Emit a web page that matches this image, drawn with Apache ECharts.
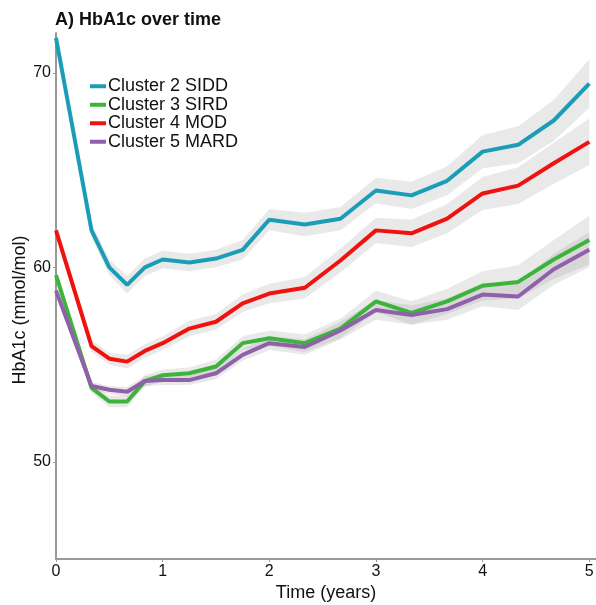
<!DOCTYPE html>
<html>
<head>
<meta charset="utf-8">
<script src="https://cdn.jsdelivr.net/npm/echarts@6/dist/echarts.min.js"></script>
<style>
html,body{margin:0;padding:0;background:#fff;}
#chart{width:596px;height:605px;}
</style>
</head>
<body>
<div id="chart"></div>
<script>
// Time points (years)
var times = [0, 0.333, 0.5, 0.667, 0.833, 1, 1.25, 1.5, 1.75, 2, 2.333, 2.667, 3, 3.333, 3.667, 4, 4.333, 4.667, 5];

var seriesNames = ['Cluster 2 SIDD', 'Cluster 3 SIRD', 'Cluster 4 MOD', 'Cluster 5 MARD'];

// Mean HbA1c (mmol/mol)
var cluster2 = [71.8, 61.9, 60.0, 59.1, 60.0, 60.4, 60.25, 60.45, 60.9, 62.45, 62.2, 62.5, 63.95, 63.7, 64.45, 65.95, 66.3, 67.55, 69.45];
var cluster3 = [59.6, 53.8, 53.1, 53.1, 54.15, 54.45, 54.55, 54.9, 56.1, 56.35, 56.1, 56.85, 58.25, 57.65, 58.25, 59.05, 59.25, 60.4, 61.4];
var cluster4 = [61.9, 55.95, 55.3, 55.15, 55.7, 56.1, 56.85, 57.2, 58.15, 58.65, 58.95, 60.35, 61.9, 61.75, 62.5, 63.8, 64.2, 65.35, 66.45];
var cluster5 = [58.8, 53.9, 53.7, 53.6, 54.15, 54.2, 54.2, 54.55, 55.5, 56.1, 55.9, 56.75, 57.8, 57.55, 57.85, 58.6, 58.5, 59.9, 60.9];

// Confidence band half-widths (mmol/mol)
var ci2 = [0.3, 0.35, 0.4, 0.45, 0.45, 0.45, 0.45, 0.45, 0.5, 0.55, 0.6, 0.6, 0.65, 0.7, 0.75, 0.85, 0.95, 1.05, 1.25];
var ci3 = [0.2, 0.25, 0.3, 0.3, 0.3, 0.3, 0.3, 0.35, 0.35, 0.4, 0.45, 0.5, 0.55, 0.6, 0.65, 0.75, 0.85, 1.0, 1.25];
var ci4 = [0.25, 0.3, 0.3, 0.35, 0.35, 0.35, 0.4, 0.4, 0.45, 0.5, 0.55, 0.6, 0.65, 0.7, 0.75, 0.85, 0.95, 1.05, 1.2];
var ci5 = [0.15, 0.2, 0.2, 0.25, 0.25, 0.25, 0.25, 0.3, 0.3, 0.35, 0.4, 0.45, 0.5, 0.5, 0.55, 0.6, 0.7, 0.8, 0.9];

var xTicks = [0, 1, 2, 3, 4, 5];
var yTicks = [50, 60, 70];

var colors = ['#1c9db7', '#3cb43c', '#f0120f', '#9160aa'];
var means = [cluster2, cluster3, cluster4, cluster5];
var cis = [ci2, ci3, ci4, ci5];

var series = [];
means.forEach(function (m, k) {
  var bandData = m.map(function (v, i) { return [times[i], v - cis[k][i], v + cis[k][i]]; });
  series.push({
    type: 'custom', silent: true, z: 1,
    data: bandData,
    encode: { x: 0, y: [1, 2] },
    renderItem: function (params, api) {
      if (params.dataIndex !== 0) return null;
      var upper = [], lower = [];
      for (var i = 0; i < bandData.length; i++) {
        upper.push(api.coord([bandData[i][0], bandData[i][2]]));
        lower.unshift(api.coord([bandData[i][0], bandData[i][1]]));
      }
      return {
        type: 'polygon',
        shape: { points: upper.concat(lower) },
        style: { fill: 'rgba(140,140,140,0.19)', stroke: null }
      };
    }
  });
});
means.forEach(function (m, k) {
  series.push({
    name: seriesNames[k], type: 'line', symbol: 'none', z: 3,
    data: m.map(function (v, i) { return [times[i], v]; }),
    lineStyle: { width: 4, color: colors[k] }, itemStyle: { color: colors[k] }
  });
});

var chart = echarts.init(document.getElementById('chart'), null, { renderer: 'canvas' });
chart.setOption({
  animation: false,
  backgroundColor: '#fff',
  textStyle: { fontFamily: 'Liberation Sans, Arial, sans-serif' },
  title: {
    text: 'A) HbA1c over time', left: 55, top: 11, padding: 0,
    textStyle: { fontSize: 18, fontWeight: 'bold', color: '#111', fontFamily: 'Liberation Sans, Arial, sans-serif' }
  },
  legend: {
    data: seriesNames, orient: 'vertical', left: 90, top: 77, padding: 0,
    itemWidth: 16, itemHeight: 4, itemGap: 0, icon: 'rect',
    textStyle: { fontSize: 18, lineHeight: 18.5, color: '#111', padding: [0, 0, 0, -3] }
  },
  grid: { left: 56, right: 0, top: 33, bottom: 46, containLabel: false, outerBoundsMode: 'none' },
  xAxis: {
    type: 'value', min: 0, max: 5.063,
    name: 'Time (years)', nameLocation: 'middle', nameGap: 25, nameMoveOverlap: false,
    nameTextStyle: { fontSize: 18, color: '#111' },
    axisLine: { lineStyle: { color: '#999', width: 2 } },
    axisTick: { length: 3, lineStyle: { color: '#999' }, customValues: xTicks },
    axisLabel: { fontSize: 16, color: '#111', margin: 5, customValues: xTicks },
    splitLine: { show: false }
  },
  yAxis: {
    type: 'value', min: 45, max: 72.05,
    name: 'HbA1c (mmol/mol)', nameLocation: 'middle', nameGap: 27, nameMoveOverlap: false,
    nameTextStyle: { fontSize: 18, color: '#111', padding: [0, 28, 0, 0] },
    axisLine: { show: true, lineStyle: { color: '#999', width: 2 } },
    axisTick: { show: true, length: 3, lineStyle: { color: '#999' }, customValues: yTicks },
    axisLabel: { fontSize: 16, color: '#111', margin: 5, customValues: yTicks },
    splitLine: { show: false }
  },
  series: series
});
</script>
</body>
</html>
